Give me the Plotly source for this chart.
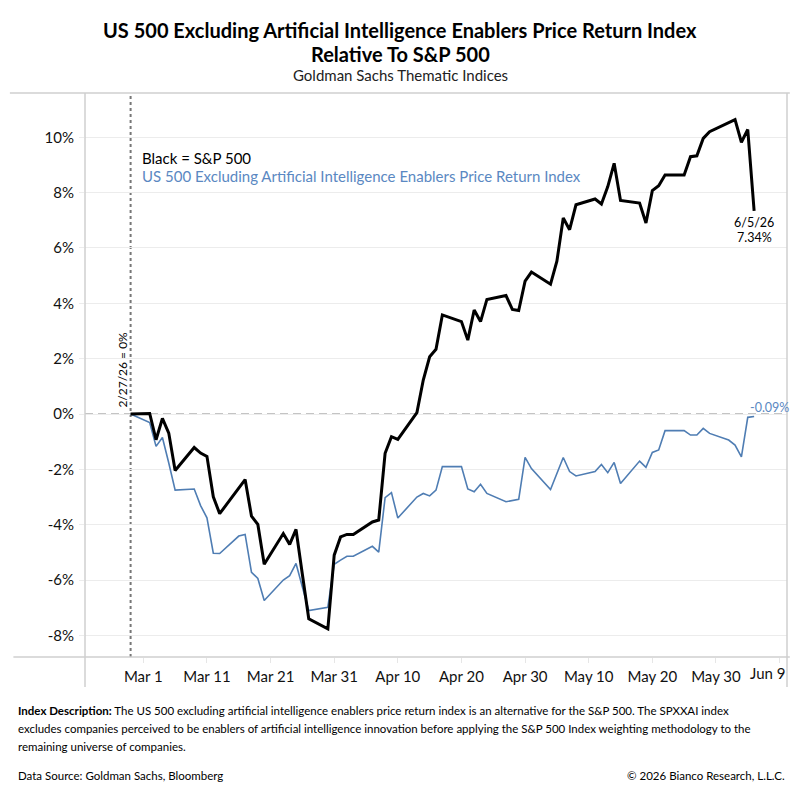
import plotly.graph_objects as go

# ---------------- data ----------------
dates = [
    "2026-02-27",
    "2026-03-02", "2026-03-03", "2026-03-04", "2026-03-05", "2026-03-06",
    "2026-03-09", "2026-03-10", "2026-03-11", "2026-03-12", "2026-03-13",
    "2026-03-16", "2026-03-17", "2026-03-18", "2026-03-19", "2026-03-20",
    "2026-03-23", "2026-03-24", "2026-03-25", "2026-03-26", "2026-03-27",
    "2026-03-30", "2026-03-31", "2026-04-01", "2026-04-02", "2026-04-03",
    "2026-04-06", "2026-04-07", "2026-04-08", "2026-04-09", "2026-04-10",
    "2026-04-13", "2026-04-14", "2026-04-15", "2026-04-16", "2026-04-17",
    "2026-04-20", "2026-04-21", "2026-04-22", "2026-04-23", "2026-04-24",
    "2026-04-27", "2026-04-28", "2026-04-29", "2026-04-30", "2026-05-01",
    "2026-05-04", "2026-05-05", "2026-05-06", "2026-05-07", "2026-05-08",
    "2026-05-11", "2026-05-12", "2026-05-13", "2026-05-14", "2026-05-15",
    "2026-05-18", "2026-05-19", "2026-05-20", "2026-05-21", "2026-05-22",
    "2026-05-25", "2026-05-26", "2026-05-27", "2026-05-28", "2026-05-29",
    "2026-06-01", "2026-06-02", "2026-06-03", "2026-06-04", "2026-06-05",
]

sp500 = [
    0.00,
    0.02, -0.93, -0.16, -0.69, -2.04,
    -1.21, -1.41, -1.53, -2.99, -3.60,
    -2.69, -2.37, -3.69, -3.99, -5.43,
    -4.32, -4.71, -4.17, -5.80, -7.40,
    -7.76, -5.10, -4.44, -4.35, -4.35,
    -3.90, -3.83, -1.42, -0.82, -0.92,
    0.05, 1.23, 2.07, 2.34, 3.58,
    3.34, 2.67, 3.76, 3.34, 4.14,
    4.28, 3.78, 3.74, 4.80, 5.13,
    4.69, 5.52, 7.08, 6.66, 7.56,
    7.77, 7.59, 8.22, 9.06, 7.72,
    7.62, 6.90, 8.07, 8.25, 8.64,
    8.64, 9.30, 9.33, 9.96, 10.20,
    10.52, 10.64, 9.82, 10.28, 7.34,
]

ex_ai = [
    0.00,
    -0.31, -1.17, -0.85, -1.77, -2.75,
    -2.71, -3.31, -3.75, -5.03, -5.04,
    -4.41, -4.35, -5.72, -5.94, -6.74,
    -6.00, -5.84, -5.40, -6.23, -7.10,
    -6.98, -5.43, -5.28, -5.14, -5.14,
    -4.78, -4.99, -3.02, -2.84, -3.76,
    -3.00, -2.87, -2.96, -2.75, -1.90,
    -1.90, -2.71, -2.81, -2.54, -2.87,
    -3.17, -3.12, -3.08, -1.57, -1.97,
    -2.73, -2.14, -1.57, -2.08, -2.24,
    -2.08, -1.82, -2.12, -1.75, -2.51,
    -1.70, -1.93, -1.39, -1.30, -0.60,
    -0.60, -0.76, -0.76, -0.52, -0.70,
    -0.94, -1.12, -1.55, -0.12, -0.09,
]

x_tick_vals = ["2026-03-01", "2026-03-11", "2026-03-21", "2026-03-31", "2026-04-10",
               "2026-04-20", "2026-04-30", "2026-05-10", "2026-05-20", "2026-05-30",
               "2026-06-09"]
x_tick_text = ["Mar 1", "Mar 11", "Mar 21", "Mar 31", "Apr 10", "Apr 20", "Apr 30",
               "May 10", "May 20", "May 30", "Jun 9"]
y_tick_vals = [-8, -6, -4, -2, 0, 2, 4, 6, 8, 10]
y_tick_text = ["-8%", "-6%", "-4%", "-2%", "0%", "2%", "4%", "6%", "8%", "10%"]

BLUE = "#4f7db3"
BLUE_TXT = "#5a88c2"
FONT = "Lato"

fig = go.Figure()

fig.add_trace(go.Scatter(x=dates, y=ex_ai, mode="lines",
                         line=dict(color=BLUE, width=1.6), hoverinfo="skip"))
fig.add_trace(go.Scatter(x=dates, y=sp500, mode="lines",
                         line=dict(color="black", width=3), hoverinfo="skip"))

# zero line and start marker
fig.add_shape(type="line", xref="paper", yref="y", x0=0, x1=1, y0=0, y1=0,
              line=dict(color="#c4c4c4", width=2, dash="8px,5px"), layer="below")
fig.add_shape(type="line", xref="x", yref="paper", x0=dates[0], x1=dates[0], y0=0, y1=1,
              line=dict(color="#777777", width=2, dash="dot"), layer="below")

# frame
frame_col = "#cfcfcf"
fig.add_shape(type="line", xref="paper", yref="paper", x0=-0.107, x1=1.004, y0=1, y1=1,
              line=dict(color=frame_col, width=1.5))
fig.add_shape(type="line", xref="paper", yref="paper", x0=-0.102, x1=1.004, y0=0, y1=0,
              line=dict(color=frame_col, width=1.5))
fig.add_shape(type="line", xref="paper", yref="paper", x0=0, x1=0, y0=-0.053, y1=1,
              line=dict(color=frame_col, width=1.5))
fig.add_shape(type="line", xref="paper", yref="paper", x0=1, x1=1, y0=-0.053, y1=1,
              line=dict(color=frame_col, width=1.5))

ann = []
# titles
ann.append(dict(text="<b>US 500 Excluding Artificial Intelligence Enablers Price Return Index</b>",
                xref="paper", yref="paper", x=(400 - 85) / 702, y=(657 - 30) / 564,
                xanchor="center", yanchor="middle", showarrow=False,
                font=dict(family=FONT, size=20, color="black")))
ann.append(dict(text="<b>Relative To S&P 500</b>",
                xref="paper", yref="paper", x=(400 - 85) / 702, y=(657 - 54) / 564,
                xanchor="center", yanchor="middle", showarrow=False,
                font=dict(family=FONT, size=20, color="black")))
ann.append(dict(text="Goldman Sachs Thematic Indices",
                xref="paper", yref="paper", x=(400 - 85) / 702, y=(657 - 75) / 564,
                xanchor="center", yanchor="middle", showarrow=False,
                font=dict(family=FONT, size=15, color="#222222")))

# legend text
ann.append(dict(text="Black = S&P 500", xref="paper", yref="paper",
                x=(140 - 85) / 702, y=(657 - 158) / 564, xanchor="left", yanchor="middle",
                showarrow=False, font=dict(family=FONT, size=15, color="black")))
ann.append(dict(text="US 500 Excluding Artificial Intelligence Enablers Price Return Index",
                xref="paper", yref="paper",
                x=(140 - 85) / 702, y=(657 - 176) / 564, xanchor="left", yanchor="middle",
                showarrow=False, font=dict(family=FONT, size=15, color=BLUE_TXT)))

# start marker label
ann.append(dict(text="2/27/26 = 0%", x=dates[0], y=0, xref="x", yref="y",
                textangle=-90, xanchor="center", yanchor="bottom", xshift=-9, yshift=4,
                showarrow=False, font=dict(family=FONT, size=12, color="black")))

# end labels
m, d, y = dates[-1][5:7], dates[-1][8:10], dates[-1][2:4]
ann.append(dict(text=f"{int(m)}/{int(d)}/{y}", x=dates[-1], y=sp500[-1], xref="x", yref="y",
                xanchor="center", yanchor="top", yshift=-2, showarrow=False,
                font=dict(family=FONT, size=12.5, color="black")))
ann.append(dict(text=f"{sp500[-1]:.2f}%", x=dates[-1], y=sp500[-1], xref="x", yref="y",
                xanchor="center", yanchor="top", yshift=-17, showarrow=False,
                font=dict(family=FONT, size=12.5, color="black")))
ann.append(dict(text=f"{ex_ai[-1]:.2f}%", x=dates[-1], y=ex_ai[-1], xref="x", yref="y",
                xanchor="left", yanchor="bottom", xshift=-6, yshift=0, showarrow=False,
                font=dict(family=FONT, size=12.5, color=BLUE_TXT)))

# last x tick label is pulled inside the frame (as in the original)
ann.append(dict(text=x_tick_text[-1], x=x_tick_vals[-1], y=0, xref="x", yref="paper",
                xanchor="center", yanchor="top", xshift=-12, yshift=-5, showarrow=False,
                font=dict(family=FONT, size=15, color="#111111")))

# footer
desc1 = ("<b>Index Description:</b> The US 500 excluding artificial intelligence enablers price "
         "return index is an alternative for the S&P 500. The SPXXAI index")
desc2 = ("excludes companies perceived to be enablers of artificial intelligence innovation "
         "before applying the S&P 500 Index weighting methodology to the")
desc3 = "remaining universe of companies."
for i, t in enumerate([desc1, desc2, desc3]):
    ann.append(dict(text=t, xref="paper", yref="paper", x=(16 - 85) / 702,
                    y=(657 - (710 + 18 * i)) / 564, xanchor="left", yanchor="middle",
                    showarrow=False, font=dict(family=FONT, size=11.5, color="black")))
ann.append(dict(text="Data Source: Goldman Sachs, Bloomberg", xref="paper", yref="paper",
                x=(16 - 85) / 702, y=(657 - 775) / 564, xanchor="left", yanchor="middle",
                showarrow=False, font=dict(family=FONT, size=11.5, color="black")))
ann.append(dict(text="© 2026 Bianco Research, L.L.C.", xref="paper", yref="paper",
                x=(787 - 85) / 702, y=(657 - 775) / 564, xanchor="right", yanchor="middle",
                showarrow=False, font=dict(family=FONT, size=11.5, color="black")))

axis_tick_text = x_tick_text[:-1] + [""]

# the page puts an 8px body margin around the figure; keep figure + margin = 800px
fig.update_layout(
    width=784, height=784,
    margin=dict(l=77, r=5, t=85, b=135),
    paper_bgcolor="white", plot_bgcolor="white",
    showlegend=False,
    annotations=ann,
    font=dict(family=FONT, size=15, color="#222222"),
    xaxis=dict(type="date", range=["2026-02-19 20:00", "2026-06-10 04:00"],
               tickvals=x_tick_vals, ticktext=axis_tick_text, showgrid=False,
               ticks="outside", ticklen=5, tickcolor="#e6e6e6", tickwidth=1,
               tickfont=dict(family=FONT, size=15, color="#111111"),
               showline=False, zeroline=False, ticklabelstandoff=1),
    yaxis=dict(range=[-8.78, 11.6], tickvals=y_tick_vals, ticktext=y_tick_text,
               showgrid=True, gridcolor="#ececec", gridwidth=1, zeroline=False,
               tickfont=dict(family=FONT, size=15, color="#111111"),
               showline=False, ticks="outside", ticklen=5, tickcolor="#ececec",
               ticklabelstandoff=2),
)

fig.write_html("out.html")
